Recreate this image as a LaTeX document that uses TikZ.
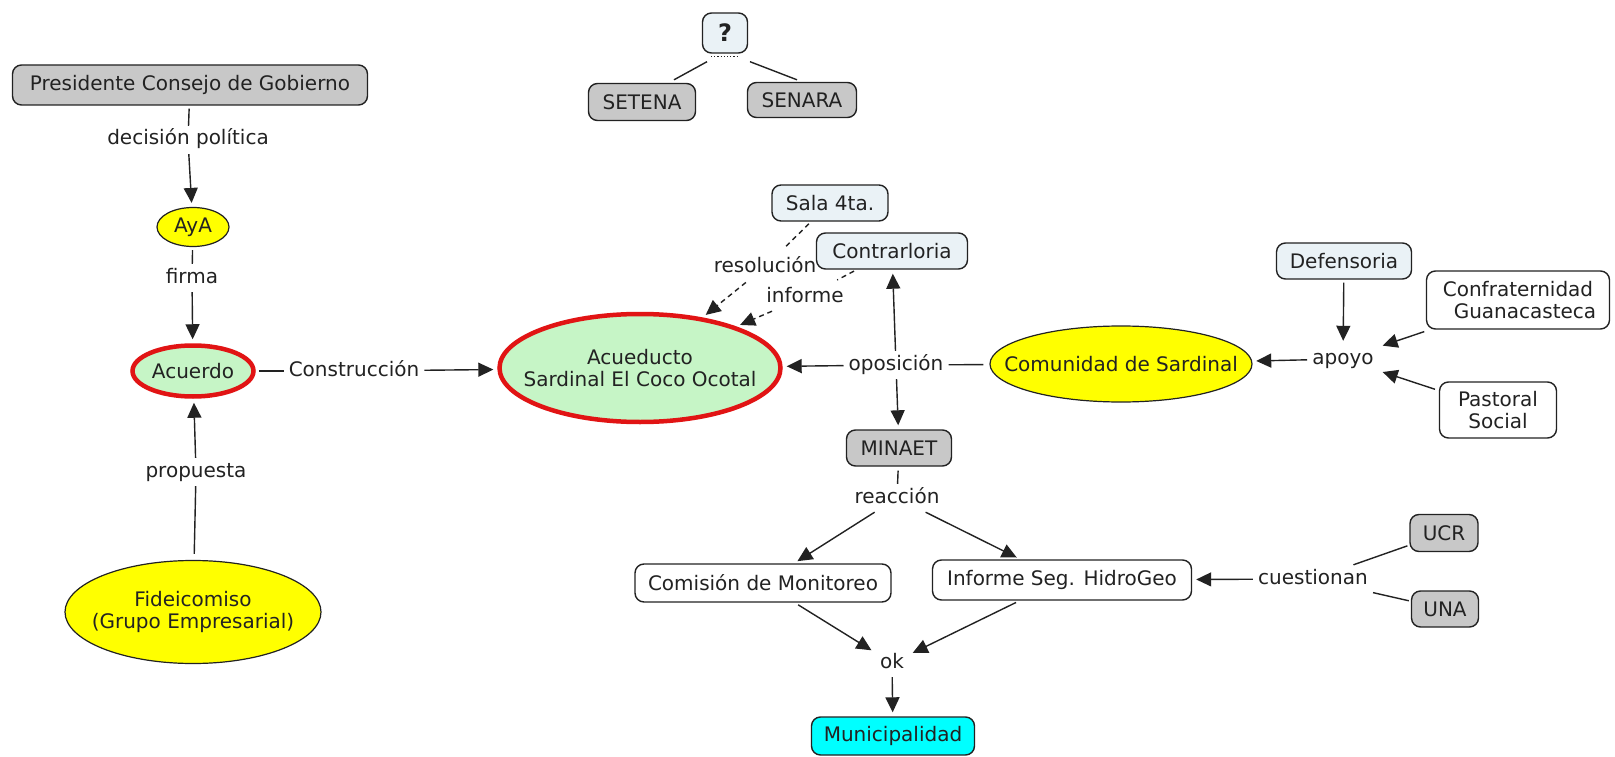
\documentclass[tikz,border=0pt]{standalone}
\usepackage{fontspec}
\setmainfont{DejaVu Sans}
\usetikzlibrary{arrows.meta,shapes.geometric,calc}
\definecolor{ink}{HTML}{222222}
\definecolor{cgray}{RGB}{200,200,200}
\definecolor{clight}{RGB}{234,242,246}
\definecolor{cgreen}{RGB}{198,245,198}
\definecolor{cred}{RGB}{225,20,20}
\definecolor{cyell}{RGB}{255,255,0}
\definecolor{ccyan}{RGB}{0,255,255}
\begin{document}
\begin{tikzpicture}[x=1pt,y=-1pt,
  font=\fontsize{20}{22}\selectfont, text=ink,
  base/.style={inner sep=0pt, align=center, line width=1.4pt, draw=ink},
  graybox/.style={base, rounded corners=9pt, fill=cgray},
  lightbox/.style={base, rounded corners=9pt, fill=clight},
  whitebox/.style={base, rounded corners=9pt, fill=white},
  cyanbox/.style={base, rounded corners=9pt, fill=ccyan},
  yell/.style={base, ellipse, fill=cyell, line width=1.2pt, inner xsep=-30pt, inner ysep=0pt},
  redg/.style={base, ellipse, fill=cgreen, draw=cred, line width=4.5pt, inner xsep=-30pt, inner ysep=0pt},
  lbl/.style={inner xsep=5pt, inner ysep=4pt, text height=15pt, text depth=5pt},
  link/.style={line width=1.4pt, draw=ink},
  arr/.style={link, -{Triangle[length=15pt,width=14pt]}, shorten >=4pt},
  dlink/.style={link, dash pattern=on 5pt off 4pt},
  darr/.style={arr, dash pattern=on 5pt off 4pt}]
\fill[white] (0,0) rectangle (1615,757);
\useasboundingbox (0,0) rectangle (1615,757);

% left column
\node[graybox, minimum width=355pt, minimum height=40pt] (pres) at (190,85) {Presidente Consejo de Gobierno};
\node[lbl] (ldec) at (188,140) {decisión política};
\node[yell, minimum width=72pt, minimum height=39pt] (aya) at (193,227) {AyA};
\node[lbl] (lfirma) at (192,278) {firma};
\node[redg, minimum width=121pt, minimum height=51pt] (acuerdo) at (193,371) {Acuerdo};
\node[lbl] (lconstr) at (354,371) {Construcción};
\node[redg, minimum width=281pt, minimum height=108pt] (acued) at (640,368) {Acueducto\\Sardinal El Coco Ocotal};
\node[lbl] (lprop) at (196,472) {propuesta};
\node[yell, minimum width=256pt, minimum height=103pt] (fide) at (193,612) {Fideicomiso\\(Grupo Empresarial)};

\draw[link, shorten <=3pt] (pres) -- (ldec);
\draw[arr] (ldec) -- (aya);
\draw[link, shorten <=3pt] (aya) -- (lfirma);
\draw[arr] (lfirma) -- (acuerdo);
\draw[link, shorten <=3pt] (acuerdo) -- (lconstr);
\draw[arr] (lconstr) -- (acued);
\draw[link, shorten <=6pt] (fide) -- (lprop);
\draw[arr] (lprop) -- (acuerdo);

% top
\node[lightbox, minimum width=45pt, minimum height=40pt, font=\bfseries\fontsize{24}{26}\selectfont] (q) at (725,33) {?};
\node[graybox, minimum width=107pt, minimum height=37pt] (setena) at (642,102) {SETENA};
\node[graybox, minimum width=109pt, minimum height=35pt] (senara) at (802,100) {SENARA};
\draw[dotted, line width=1.2pt, draw=ink] ($(q.south)+(-14,3)$) -- ($(q.south)+(14,3)$);
\draw[link] ($(q.south)+(-18,8)$) -- ($(setena.north)+(32,-3)$);
\draw[link] ($(q.south)+(25,8)$) -- ($(senara.north)+(-5,-2)$);

% centre
\node[lightbox, minimum width=116pt, minimum height=36pt] (sala) at (830,203) {Sala 4ta.};
\node[lightbox, minimum width=151pt, minimum height=36pt] (contra) at (892,251) {Contrarloria};
\node[lbl] (lres) at (765,267) {resolución};
\node[lbl] (linf) at (805,297) {informe};
\node[lbl] (lopos) at (896,365) {oposición};
\node[graybox, minimum width=105pt, minimum height=36pt] (minaet) at (899,448) {MINAET};
\node[yell, minimum width=262pt, minimum height=76pt] (comun) at (1121,364) {Comunidad de Sardinal};

\draw[dlink, shorten <=3pt, shorten >=6pt] (sala) -- (lres);
\draw[darr, shorten <=2pt] (lres) -- (acued);
\draw[dlink, shorten <=3pt, shorten >=6pt] (contra) -- (linf);
\draw[darr] (linf) -- (acued);
\draw[arr] (lopos) -- (acued);
\draw[arr] (lopos) -- (contra);
\draw[arr] (lopos) -- (minaet);
\draw[link, shorten <=6pt] (comun) -- (lopos);

% right
\node[lbl] (lapoyo) at (1343,359) {apoyo};
\node[lightbox, minimum width=135pt, minimum height=36pt] (defens) at (1344,261) {Defensoria};
\node[whitebox, minimum width=183pt, minimum height=58pt] (confra) at (1518,300) {Confraternidad\\\hspace*{14pt}Guanacasteca};
\node[whitebox, minimum width=117pt, minimum height=56pt] (pastoral) at (1498,410) {Pastoral\\Social};
\draw[arr, shorten <=3pt] (defens) -- (lapoyo);
\draw[arr, shorten <=6pt] (confra) -- (lapoyo);
\draw[arr, shorten <=4pt] (pastoral) -- (lapoyo);
\draw[arr] (lapoyo) -- (comun);

% bottom
\node[lbl] (lreac) at (897,498) {reacción};
\node[whitebox, minimum width=256pt, minimum height=38pt] (comision) at (763,583) {Comisión de Monitoreo};
\node[whitebox, minimum width=259pt, minimum height=40pt] (informe) at (1062,580) {Informe Seg. HidroGeo};
\node[lbl] (lcuest) at (1313,579) {cuestionan};
\node[graybox, minimum width=68pt, minimum height=37pt] (ucr) at (1444,533) {UCR};
\node[graybox, minimum width=67pt, minimum height=36pt] (una) at (1445,609) {UNA};
\node[lbl] (lok) at (892,663) {ok};
\node[cyanbox, minimum width=163pt, minimum height=38pt] (muni) at (893,736) {Municipalidad};

\draw[link, shorten <=4pt] (minaet) -- (lreac);
\draw[arr] (lreac) -- (comision);
\draw[arr] (lreac) -- (informe);
\draw[arr, shorten <=4pt] (comision) -- (lok);
\draw[arr, shorten <=4pt] (informe) -- (lok);
\draw[arr] (lok) -- (muni);
\draw[arr] (lcuest) -- (informe);
\draw[link, shorten <=2pt] (ucr) -- (lcuest);
\draw[link, shorten <=2pt] (una) -- (lcuest);
\end{tikzpicture}
\end{document}
